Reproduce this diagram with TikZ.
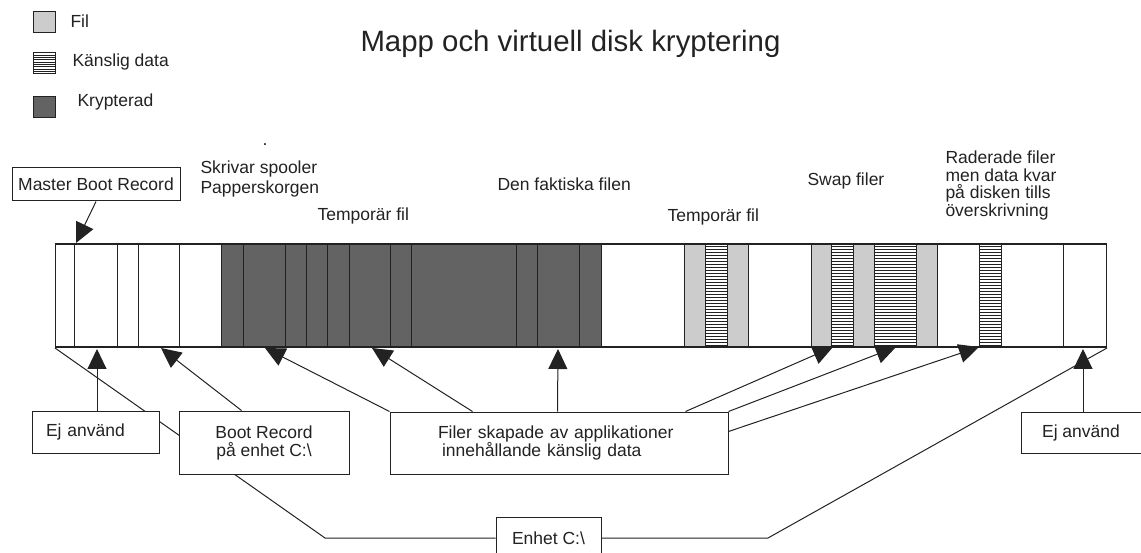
\documentclass[tikz,border=0pt]{standalone}
\usepackage{fontspec}
\setmainfont{Liberation Sans}
\usetikzlibrary{arrows.meta}
\definecolor{ink}{HTML}{222222}
\definecolor{filgray}{HTML}{CCCCCC}
\definecolor{cryptgray}{HTML}{636363}
\newcommand\lblfont{\fontsize{17.5}{18}\selectfont}
% one striped (sensitive data) segment of the disk bar
\newcommand\hatchbar[2]{%
  \fill[white] (#1,244) rectangle (#2,347);
  \foreach \yy in {246.5,249.5,...,345.5} \draw[line width=0.8pt] (#1,\yy) -- (#2,\yy);
  \draw (#1,244) rectangle (#2,347);
}
\tikzset{
  lbl/.style={font=\lblfont, inner sep=0pt},
  box/.style={draw, fill=white, font=\lblfont, inner ysep=0pt},
  arr/.style={-{Triangle[length=20pt,width=19pt]}},
}
\begin{document}
\begin{tikzpicture}[x=1pt,y=-1pt,line width=1pt,color=ink]
\path[use as bounding box] (0,0) rectangle (1141,553);
\clip (0,0) rectangle (1141,553);

% legend
\draw[fill=filgray] (33,12) rectangle (55,33);
\fill[white] (33,53) rectangle (55,74);
\foreach \yy in {55.3,57.6,...,72} \draw[line width=0.8pt] (33,\yy) -- (55,\yy);
\draw (33,53) rectangle (55,74);
\draw[fill=cryptgray] (33,97) rectangle (55,118);
\node[lbl, anchor=base west] (lgfil) at (70,28) {Fil};
\node[lbl, anchor=base west] (lgsens) at (72,67) {Känslig data};
\node[lbl, anchor=base west] (lgcrypt) at (77,107) {Krypterad};

% title
\node[font=\fontsize{29.4}{32}\selectfont, inner sep=0pt, anchor=base west] (title) at (360,52) {Mapp och virtuell disk kryptering};

% labels above the disk
\node[lbl, anchor=base] (dot) at (265,146) {.};
\node[lbl, anchor=north west, align=left, font=\fontsize{17.5}{20}\selectfont] (spool) at (200,160.3) {Skrivar spooler\\Papperskorgen};
\node[lbl, anchor=base west] (temp1) at (317,221) {Temporär fil};
\node[lbl, anchor=base west] (actual) at (497,191) {Den faktiska filen};
\node[lbl, anchor=base west] (temp2) at (667,222) {Temporär fil};
\node[lbl, anchor=base west] (swap) at (807,186) {Swap filer};
\node[lbl, anchor=north west, align=left, font=\fontsize{17.5}{17.7}\selectfont] (deleted) at (945,150.3) {Raderade filer\\men data kvar\\på disken tills\\överskrivning};

% disk bar: white clusters
\foreach \a/\b in {55/74,74/117,117/138,138/179,179/221,601/684,748/811,937/979,1001/1063,1063/1106}
  \draw[fill=white] (\a,244) rectangle (\b,347);
% encrypted clusters
\foreach \a/\b in {221/243,243/285,285/306,306/327,327/349,349/390,390/411,411/516,516/537,537/579,579/601}
  \draw[fill=cryptgray] (\a,244) rectangle (\b,347);
% plain file clusters
\foreach \a/\b in {684/705,727/748,811/831,853/874,916/937}
  \draw[fill=filgray] (\a,244) rectangle (\b,347);
% sensitive data clusters
\hatchbar{705}{727}
\hatchbar{831}{853}
\hatchbar{874}{916}
\hatchbar{979}{1001}
\node[draw, minimum width=1051pt, minimum height=103pt, inner sep=0pt, anchor=north west] (disk) at (55,244) {};

% arrow targets on the disk
\coordinate (tmbr) at (76,243);
\coordinate (tej1) at (97,349);
\coordinate (tboot) at (161,348);
\coordinate (tf1) at (265,348);
\coordinate (tf2) at (372,348);
\coordinate (tf3) at (558,349);
\coordinate (tf4) at (833,347);
\coordinate (tf5) at (896,347);
\coordinate (tf6) at (979,347);
\coordinate (tej2) at (1083,349);

% drive C: spans the whole disk
\node[box, minimum width=105pt, minimum height=42pt] (enhet) at (548.5,538) {Enhet C:\textbackslash};
\draw (disk.south west) -- (325,538) -- (enhet.west);
\draw (enhet.east) -- (768,538) -- (disk.south east);

% callout boxes
\node[box, minimum width=168pt, minimum height=33pt] (mbr) at (96,184.5) {Master Boot Record};
\node[box, text width=99pt, inner xsep=14pt, align=left, minimum height=42pt] (ej1) at (95.5,432) {Ej använd};
\node[box, minimum width=170pt, minimum height=63pt, align=center] (boot) at (264,442.5) {Boot Record\\på enhet C:\textbackslash};
\node[box, text width=242pt, inner xsep=48pt, align=left, minimum height=62pt] (filer) at (559,443) {Filer skapade av applikationer\\\hspace*{4pt}innehållande känslig data};
\node[box, minimum width=120pt, minimum height=41pt] (ej2) at (1081,432.5) {Ej använd};

% pointers
\draw[arr] (mbr.south) -- (tmbr);
\draw[arr] ([xshift=1.5pt]ej1.north) -- (tej1);
\draw[arr] ([xshift=63pt]boot.north west) -- (tboot);
\draw[arr] (filer.north west) -- (tf1);
\draw[arr] ([xshift=83pt]filer.north west) -- (tf2);
\draw[arr] ([xshift=168pt]filer.north west) -- (tf3);
\draw[arr] ([xshift=296pt]filer.north west) -- (tf4);
\draw[arr] (filer.north east) -- (tf5);
\draw[arr] ([yshift=-20pt]filer.north east) -- (tf6);
\draw[arr] ([xshift=2pt]ej2.north) -- (tej2);
\end{tikzpicture}
\end{document}
